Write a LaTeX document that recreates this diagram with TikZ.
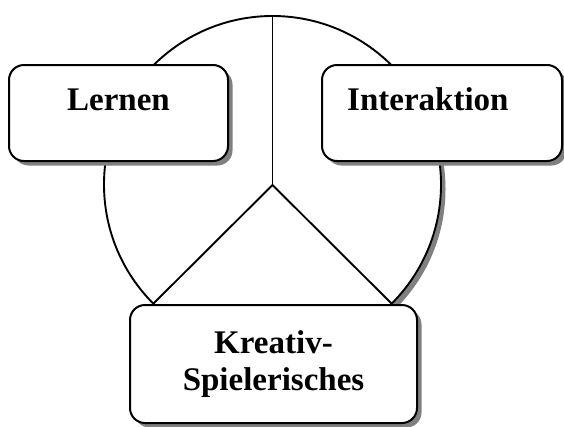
\documentclass[tikz,border=0pt]{standalone}
\usepackage{fontspec}
\setmainfont{Liberation Serif}
\usetikzlibrary{shadows}
\begin{document}
\begin{tikzpicture}[x=1pt,y=-1pt,
  shade/.style={drop shadow={shadow xshift=4.5pt,shadow yshift=-4.5pt,fill=black!50,opacity=1}},
  ring/.style={circle,draw,line width=1.9pt,fill=white,minimum size=337pt,inner sep=0pt,shade},
  spoke/.style={line width=1.9pt},
  card/.style={draw,line width=2pt,fill=white,rounded corners=15pt,inner sep=0pt,shade},
  title/.style={font=\fontsize{33}{37}\selectfont\bfseries,inner sep=0pt,align=center}]
\useasboundingbox (0,0) rectangle (564,426);

% the ring with its three spokes
\node[ring] (ring) at (272.5,184.5) {};
\coordinate (hub) at (272.5,185);
\draw[spoke] (ring.north) -- (hub);
\draw[spoke] (hub) -- (ring.225);
\draw[spoke] (hub) -- (ring.315);

% the three cards
\node[card,minimum width=219pt,minimum height=96pt] (lern) at (118.5,113) {};
\node[card,minimum width=240pt,minimum height=96pt] (inter) at (442,113) {};
\node[card,minimum width=287pt,minimum height=118pt] (krea) at (273.5,364) {};

\node[title,anchor=base] (lernT) at (118.5,110) {Lernen};
\node[title,anchor=base west] (interT) at (347,110) {Interaktion};
\node[title,anchor=base] (kreaT1) at (273.5,353) {Kreativ-};
\node[title,anchor=base] (kreaT2) at (273.5,390) {Spielerisches};
\end{tikzpicture}
\end{document}
